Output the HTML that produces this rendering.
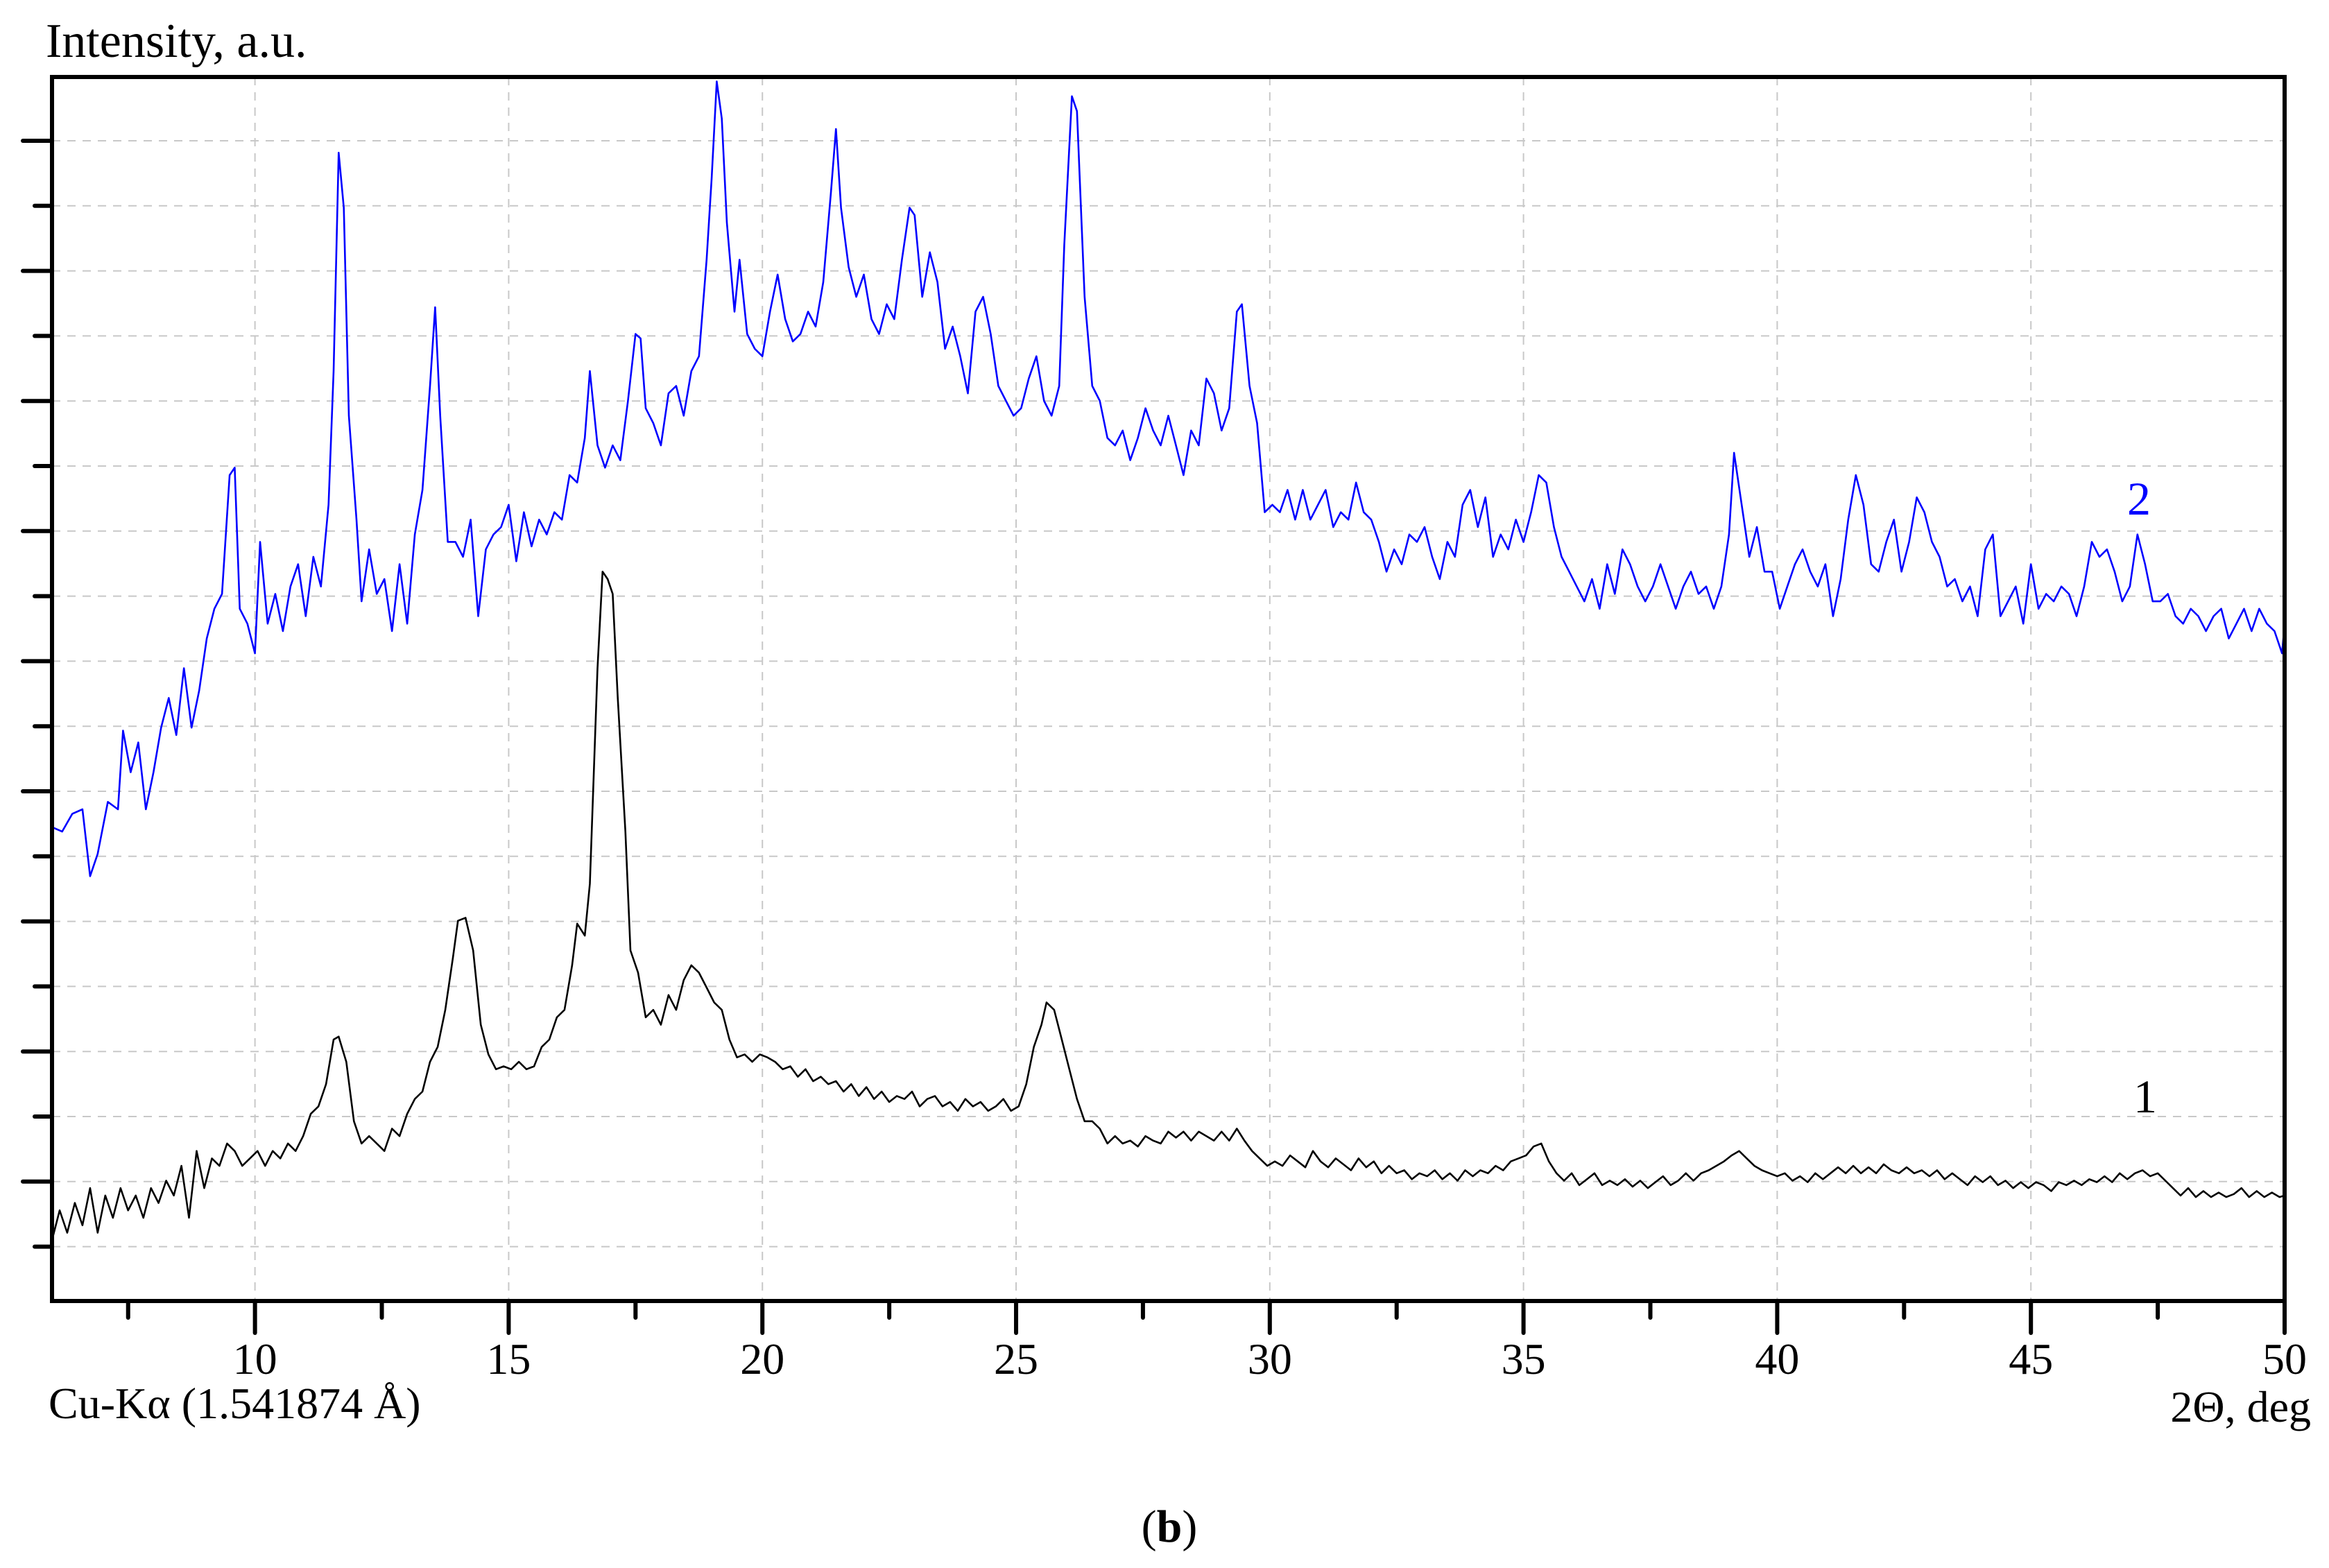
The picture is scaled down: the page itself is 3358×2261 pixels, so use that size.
<!DOCTYPE html>
<html><head><meta charset="utf-8"><style>
html,body{margin:0;padding:0;background:#fff}
svg{display:block}
text{font-family:"Liberation Serif",serif;fill:#000}
</style></head><body>
<svg id="chart" width="3358" height="2261" viewBox="0 0 3358 2261" xmlns="http://www.w3.org/2000/svg">
<g id="grid"></g>
<g id="series"></g>
<g id="axes"></g>
<text x="66" y="82" font-size="70">Intensity, a.u.</text>
<text x="70" y="2045" font-size="64">Cu-Kα (1.541874 Å)</text>
<text x="3332" y="2050" font-size="64" text-anchor="end">2Θ, deg</text>
<text x="1686" y="2223" font-size="66" text-anchor="middle">(<tspan font-weight="bold">b</tspan>)</text>
<text x="3084" y="742" font-size="68" text-anchor="middle" style="fill:#0000ff">2</text>
<text x="3093" y="1604" font-size="68" text-anchor="middle">1</text>
</svg>
<script>
const xTicksMajor = [10, 15, 20, 25, 30, 35, 40, 45, 50];
const xTicksMinor = [7.5, 12.5, 17.5, 22.5, 27.5, 32.5, 37.5, 42.5, 47.5];
const x2 = [6.0,6.2,6.4,6.6,6.75,6.9,7.1,7.3,7.4,7.55,7.7,7.85,8.0,8.15,8.3,8.45,8.6,8.75,8.9,9.05,9.2,9.35,9.5,9.6,9.7,9.85,10.0,10.1,10.25,10.4,10.55,10.7,10.85,11.0,11.15,11.3,11.45,11.55,11.65,11.75,11.85,12.0,12.1,12.25,12.4,12.55,12.7,12.85,13.0,13.15,13.3,13.45,13.55,13.65,13.8,13.95,14.1,14.25,14.4,14.55,14.7,14.85,15.0,15.15,15.3,15.45,15.6,15.75,15.9,16.05,16.2,16.35,16.5,16.6,16.75,16.9,17.05,17.2,17.35,17.5,17.6,17.7,17.85,18.0,18.15,18.3,18.45,18.6,18.75,18.9,19.0,19.1,19.2,19.3,19.45,19.55,19.7,19.85,20.0,20.15,20.3,20.45,20.6,20.75,20.9,21.05,21.2,21.35,21.45,21.55,21.7,21.85,22.0,22.15,22.3,22.45,22.6,22.75,22.9,23.0,23.15,23.3,23.45,23.6,23.75,23.9,24.05,24.2,24.35,24.5,24.65,24.8,24.95,25.1,25.25,25.4,25.55,25.7,25.85,25.95,26.1,26.2,26.35,26.5,26.65,26.8,26.95,27.1,27.25,27.4,27.55,27.7,27.85,28.0,28.15,28.3,28.45,28.6,28.75,28.9,29.05,29.2,29.35,29.45,29.6,29.75,29.9,30.05,30.2,30.35,30.5,30.65,30.8,30.95,31.1,31.25,31.4,31.55,31.7,31.85,32.0,32.15,32.3,32.45,32.6,32.75,32.9,33.05,33.2,33.35,33.5,33.65,33.8,33.95,34.1,34.25,34.4,34.55,34.7,34.85,35.0,35.15,35.3,35.45,35.6,35.75,35.9,36.05,36.2,36.35,36.5,36.65,36.8,36.95,37.1,37.25,37.4,37.55,37.7,37.85,38.0,38.15,38.3,38.45,38.6,38.75,38.9,39.05,39.15,39.3,39.45,39.6,39.75,39.9,40.05,40.2,40.35,40.5,40.65,40.8,40.95,41.1,41.25,41.4,41.55,41.7,41.85,42.0,42.15,42.3,42.45,42.6,42.75,42.9,43.05,43.2,43.35,43.5,43.65,43.8,43.95,44.1,44.25,44.4,44.55,44.7,44.85,45.0,45.15,45.3,45.45,45.6,45.75,45.9,46.05,46.2,46.35,46.5,46.65,46.8,46.95,47.1,47.25,47.4,47.55,47.7,47.85,48.0,48.15,48.3,48.45,48.6,48.75,48.9,49.05,49.2,49.35,49.5,49.65,49.8,49.95,50.0];
const depth2 = [557,560,548,545,590,575,540,545,492,520,500,545,520,490,470,495,450,490,465,430,410,400,320,315,410,420,440,365,420,400,425,395,380,415,375,395,340,250,103,140,280,350,405,370,400,390,425,380,420,360,330,260,207,280,365,365,375,350,415,370,360,355,340,378,345,368,350,360,345,350,320,325,295,250,300,315,300,310,270,225,228,275,285,300,265,260,280,250,240,175,120,55,80,150,210,175,225,235,240,210,185,215,230,225,210,220,190,130,87,140,180,200,185,215,225,205,215,175,140,145,200,170,190,235,220,240,265,210,200,225,260,270,280,275,255,240,270,280,260,165,65,75,200,260,270,295,300,290,310,295,275,290,300,280,300,320,290,300,255,265,290,275,210,205,260,285,345,340,345,330,350,330,350,340,330,355,345,350,325,345,350,365,385,370,380,360,365,355,375,390,365,375,340,330,355,335,375,360,370,350,365,345,320,325,355,375,385,395,405,390,410,380,400,370,380,395,405,395,380,395,410,395,385,400,395,410,395,360,305,340,375,355,385,385,410,395,380,370,385,395,380,415,390,350,320,340,380,385,365,350,385,365,335,345,365,375,395,390,405,395,415,370,360,415,405,395,420,380,410,400,405,395,400,415,395,365,375,370,385,405,395,360,380,405,405,400,415,420,410,415,425,415,410,430,420,410,425,410,420,425,440,420];
const x1 = [6.0,6.15,6.3,6.45,6.6,6.75,6.9,7.05,7.2,7.35,7.5,7.65,7.8,7.95,8.1,8.25,8.4,8.55,8.7,8.85,9.0,9.15,9.3,9.45,9.6,9.75,9.9,10.05,10.2,10.35,10.5,10.65,10.8,10.95,11.1,11.25,11.4,11.55,11.65,11.8,11.95,12.1,12.25,12.4,12.55,12.7,12.85,13.0,13.15,13.3,13.45,13.6,13.75,13.9,14.0,14.15,14.3,14.45,14.6,14.75,14.9,15.05,15.2,15.35,15.5,15.65,15.8,15.95,16.1,16.25,16.35,16.5,16.6,16.75,16.85,16.95,17.05,17.15,17.3,17.4,17.55,17.7,17.85,18.0,18.15,18.3,18.45,18.6,18.75,18.9,19.05,19.2,19.35,19.5,19.65,19.8,19.95,20.1,20.25,20.4,20.55,20.7,20.85,21.0,21.15,21.3,21.45,21.6,21.75,21.9,22.05,22.2,22.35,22.5,22.65,22.8,22.95,23.1,23.25,23.4,23.55,23.7,23.85,24.0,24.15,24.3,24.45,24.6,24.75,24.9,25.05,25.2,25.35,25.5,25.6,25.75,25.9,26.05,26.2,26.35,26.5,26.65,26.8,26.95,27.1,27.25,27.4,27.55,27.7,27.85,28.0,28.15,28.3,28.45,28.6,28.75,28.9,29.05,29.2,29.35,29.5,29.65,29.8,29.95,30.1,30.25,30.4,30.55,30.7,30.85,31.0,31.15,31.3,31.45,31.6,31.75,31.9,32.05,32.2,32.35,32.5,32.65,32.8,32.95,33.1,33.25,33.4,33.55,33.7,33.85,34.0,34.15,34.3,34.45,34.6,34.75,34.9,35.05,35.2,35.35,35.5,35.65,35.8,35.95,36.1,36.25,36.4,36.55,36.7,36.85,37.0,37.15,37.3,37.45,37.6,37.75,37.9,38.05,38.2,38.35,38.5,38.65,38.8,38.95,39.1,39.25,39.4,39.55,39.7,39.85,40.0,40.15,40.3,40.45,40.6,40.75,40.9,41.05,41.2,41.35,41.5,41.65,41.8,41.95,42.1,42.25,42.4,42.55,42.7,42.85,43.0,43.15,43.3,43.45,43.6,43.75,43.9,44.05,44.2,44.35,44.5,44.65,44.8,44.95,45.1,45.25,45.4,45.55,45.7,45.85,46.0,46.15,46.3,46.45,46.6,46.75,46.9,47.05,47.2,47.35,47.5,47.65,47.8,47.95,48.1,48.25,48.4,48.55,48.7,48.85,49.0,49.15,49.3,49.45,49.6,49.75,49.9,50.0];
const depth1 = [835,815,830,810,825,800,830,805,820,800,815,805,820,800,810,795,805,785,820,775,800,780,785,770,775,785,780,775,785,775,780,770,775,765,750,745,730,700,698,715,755,770,765,770,775,760,765,750,740,735,715,705,680,645,620,618,640,690,710,720,718,720,715,720,718,705,700,685,680,650,622,630,595,450,385,390,400,470,560,640,655,685,680,690,670,680,660,650,655,665,675,680,700,712,710,715,710,712,715,720,718,725,720,728,725,730,728,735,730,738,732,740,735,742,738,740,735,745,740,738,745,742,748,740,745,742,748,745,740,748,745,730,705,690,675,680,700,720,740,755,755,760,770,765,770,768,772,765,768,770,762,766,762,768,762,765,768,762,768,760,768,775,780,785,782,785,778,782,786,775,782,786,780,784,788,780,786,782,790,785,790,788,794,790,792,788,794,790,795,788,792,788,790,785,788,782,780,778,772,770,782,790,795,790,798,794,790,798,795,798,794,799,795,800,796,792,798,795,790,795,790,788,785,782,778,775,780,785,788,790,792,790,795,792,796,790,794,790,786,790,785,790,786,790,784,788,790,786,790,788,792,788,794,790,794,798,792,796,792,798,795,800,796,800,796,798,802,796,798,795,798,794,796,792,796,790,794,790,788,792,790,795,800,805,800,806,802,806,803,806,804,800,806,802,806,803,806,805];
const intensity2 = depth2.map(d => 876 - d);
const intensity1 = depth1.map(d => 876 - d);

const NS = 'http://www.w3.org/2000/svg';
const L = 75, R = 3294, T = 111, B = 1876;
const xMin = 6, xMax = 50, yMax = 824;
function xs(v){ return L + (v - xMin) / (xMax - xMin) * (R - L); }
function ys(v){ return B - v / yMax * (B - T); }
function mk(tag, attrs, parent){ const e = document.createElementNS(NS, tag); for (const k in attrs) e.setAttribute(k, attrs[k]); parent.appendChild(e); return e; }

const grid = document.getElementById('grid');
const axes = document.getElementById('axes');
const series = document.getElementById('series');

const yTickCount = 18;
for (let i = 0; i < yTickCount; i++) {
  const y = 203 + i * 93.8;
  const g = mk('line', {x1: L, x2: R, y1: y, y2: y, stroke: '#c8c8c8', 'stroke-width': 2, 'stroke-dasharray': '12 10'}, grid);
  
  
  const major = i % 2 === 0;
  const t = mk('line', {x1: major ? 33 : 50, x2: L, y1: y, y2: y, stroke: '#000', 'stroke-width': 6, 'stroke-linecap': 'round'}, axes);
  
  
}
xTicksMajor.forEach(v => {
  const x = xs(v);
  if (v < xMax) {
    const g = mk('line', {x1: x, x2: x, y1: T, y2: B, stroke: '#c8c8c8', 'stroke-width': 2, 'stroke-dasharray': '12 10'}, grid);
    
    
  }
  const t = mk('line', {x1: x, x2: x, y1: B, y2: B + 46, stroke: '#000', 'stroke-width': 6, 'stroke-linecap': 'round'}, axes);
  
  
  const lb = mk('text', {x: x, y: 1981, 'font-size': 64, 'text-anchor': 'middle'}, axes);
  lb.textContent = String(v);
  
  
});
xTicksMinor.forEach(v => {
  const x = xs(v);
  const t = mk('line', {x1: x, x2: x, y1: B, y2: B + 24, stroke: '#000', 'stroke-width': 6, 'stroke-linecap': 'round'}, axes);
  
  
});

function drawLine(xa, ya, color, name){
  const pts = xa.map((v, i) => xs(v).toFixed(1) + ',' + ys(ya[i]).toFixed(1)).join(' ');
  const p = mk('polyline', {points: pts, fill: 'none', stroke: color, 'stroke-width': 2.6, 'stroke-linejoin': 'round'}, series);
  
  
}
drawLine(x2, intensity2, '#0000ff', 'series-2-line');
drawLine(x1, intensity1, '#000000', 'series-1-line');

const frame = mk('rect', {x: L, y: T, width: R - L, height: B - T, fill: 'none', stroke: '#000', 'stroke-width': 6}, axes);


</script>
</body></html>
